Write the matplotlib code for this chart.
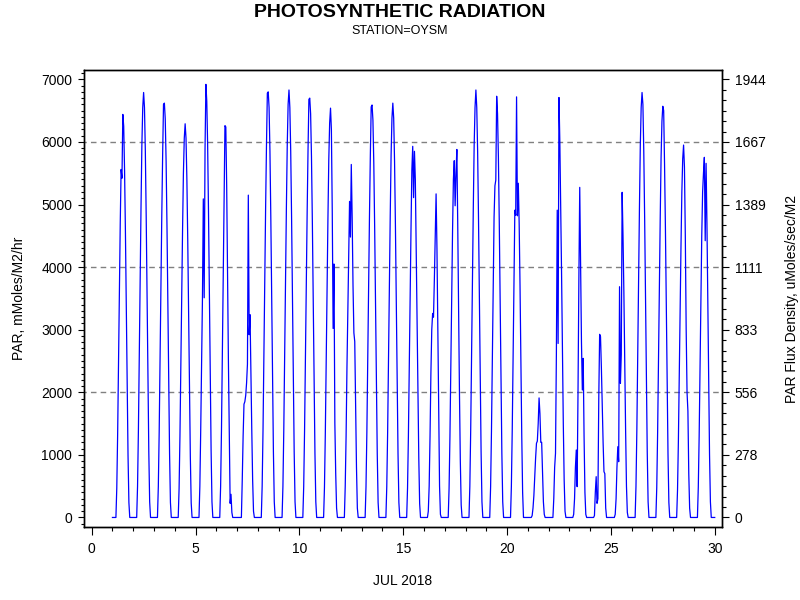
import numpy as np
import matplotlib.pyplot as plt
from matplotlib.ticker import MultipleLocator

plt.rcParams['font.family'] = ['Liberation Sans', 'DejaVu Sans']

# hourly PAR (mMoles/M2/hr) for hours 05..19 of each day, zero at night
days = list(range(1, 30))
day_hours = list(range(5, 20))

jul01 = [470, 1330, 2460, 3600, 4700, 5560, 5420, 6440, 6250, 5540, 4550, 3360, 2130, 990, 240]
jul02 = [500, 1400, 2600, 3800, 4950, 5950, 6550, 6790, 6550, 5850, 4800, 3550, 2250, 1050, 250]
jul03 = [490, 1360, 2530, 3700, 4820, 5790, 6600, 6620, 6370, 5690, 4670, 3450, 2190, 1020, 240]
jul04 = [460, 1300, 2400, 3520, 4580, 5500, 6060, 6290, 6060, 5410, 4440, 3280, 2080, 970, 230]
jul05 = [500, 1400, 2500, 3500, 5090, 3510, 5900, 6920, 6650, 5950, 4880, 3600, 2290, 1070, 250]
jul06 = [500, 1400, 2600, 3800, 4950, 6260, 6240, 5300, 3900, 2500, 1300, 226, 370, 80, 0]
jul07 = [0, 600, 1300, 1810, 1850, 1950, 2150, 2450, 5150, 2920, 3240, 2300, 1400, 600, 100]
jul08 = [500, 1400, 2600, 3800, 4950, 5950, 6780, 6800, 6550, 5850, 4800, 3550, 2250, 1050, 250]
jul09 = [500, 1400, 2600, 3800, 4950, 5950, 6600, 6830, 6550, 5850, 4800, 3550, 2250, 1050, 250]
jul10 = [490, 1380, 2560, 3740, 4880, 5860, 6680, 6700, 6450, 5760, 4730, 3500, 2220, 1030, 250]
jul11 = [480, 1350, 2500, 3650, 4760, 5720, 6300, 6540, 6200, 4900, 3020, 4050, 1510, 700, 150]
jul12 = [500, 1300, 2400, 3300, 4100, 5050, 4480, 5640, 4800, 3700, 2950, 2810, 1800, 800, 150]
jul13 = [490, 1360, 2520, 3680, 4800, 5770, 6560, 6590, 6350, 5670, 4650, 3440, 2180, 1020, 240]
jul14 = [490, 1360, 2530, 3700, 4820, 5790, 6380, 6620, 6380, 5690, 4670, 3450, 2190, 1020, 240]
jul15 = [470, 1300, 2420, 3540, 4600, 5550, 5930, 5110, 5850, 5400, 4300, 3150, 2000, 950, 220]
jul16 = [100, 500, 1300, 2300, 3000, 3260, 3200, 3800, 4490, 5170, 4300, 3000, 1600, 500, 50]
jul17 = [460, 1290, 2400, 3500, 4560, 5400, 5700, 4980, 5500, 5880, 4700, 3300, 2000, 900, 200]
jul18 = [500, 1400, 2600, 3800, 4950, 5950, 6550, 6830, 6550, 5850, 4800, 3550, 2250, 1050, 250]
jul19 = [490, 1380, 2560, 3740, 4800, 5300, 5390, 6730, 6450, 5760, 4730, 3500, 2220, 1030, 250]
jul20 = [500, 1400, 2600, 3800, 4910, 4830, 6720, 4820, 5340, 4700, 3700, 2500, 1300, 400, 0]
jul21 = [30, 150, 350, 650, 950, 1185, 1220, 1500, 1910, 1660, 1200, 1200, 700, 250, 50]
jul22 = [0, 300, 800, 1025, 2600, 4910, 2780, 6710, 6000, 5000, 3900, 2700, 1500, 600, 100]
jul23 = [50, 300, 800, 1078, 492, 2000, 3800, 5274, 4000, 2800, 2036, 2542, 1300, 400, 50]
jul24 = [30, 400, 652, 226, 300, 1900, 2926, 2890, 2400, 1800, 1200, 732, 700, 150, 0]
jul25 = [50, 300, 800, 1131, 891, 3687, 2143, 2600, 5195, 4500, 3600, 2500, 1400, 500, 80]
jul26 = [500, 1400, 2600, 3800, 4950, 5950, 6550, 6790, 6600, 5850, 4800, 3550, 2250, 1050, 250]
jul27 = [480, 1350, 2500, 3670, 4780, 5750, 6330, 6570, 6500, 5650, 4640, 3430, 2170, 1010, 240]
jul28 = [440, 1220, 2270, 3320, 4330, 5200, 5730, 5950, 5600, 4500, 3000, 2000, 1700, 700, 150]
jul29 = [480, 1300, 2400, 3500, 4500, 5200, 5500, 5754, 4422, 5658, 4700, 3500, 2200, 1000, 250]

profiles = [jul01, jul02, jul03, jul04, jul05, jul06, jul07, jul08, jul09, jul10,
            jul11, jul12, jul13, jul14, jul15, jul16, jul17, jul18, jul19, jul20,
            jul21, jul22, jul23, jul24, jul25, jul26, jul27, jul28, jul29]

left_ticks = [0, 1000, 2000, 3000, 4000, 5000, 6000, 7000]
right_labels = ['0', '278', '556', '833', '1111', '1389', '1667', '1944']
grid_levels = [2000, 4000, 6000]

t = []
par = []
for d, prof in zip(days, profiles):
    for h in range(24):
        t.append(d + h / 24)
        par.append(prof[day_hours.index(h)] if h in day_hours else 0)
t.append(30.0)
par.append(0)

fig = plt.figure(figsize=(8, 6), dpi=100)
ax = fig.add_axes([0.105, 0.1217, 0.7975, 0.7616])

ax.hlines(grid_levels, -1, 31, colors='#808080', linestyles=(0, (4, 3)), linewidth=1)
ax.plot(t, par, color='#0000ff', linewidth=0.9)

ax.set_xlim(-0.37, 30.35)
ax.set_ylim(-152, 7149)
ax.set_xticks(np.arange(0, 31, 5))
ax.xaxis.set_minor_locator(MultipleLocator(1))
ax.set_yticks(left_ticks)
ax.yaxis.set_minor_locator(MultipleLocator(100))
ax.tick_params(axis='x', which='major', direction='out', length=6, width=0.8, labelsize=10, pad=5)
ax.tick_params(axis='x', which='minor', direction='out', length=3, width=0.8)
ax.tick_params(axis='y', which='major', direction='out', length=4.5, width=0.8, labelsize=10, pad=4)
ax.tick_params(axis='y', which='minor', direction='out', length=2.5, width=0.8)
ax.set_xlabel('JUL 2018', fontsize=10, labelpad=13)
ax.set_ylabel('PAR, mMoles/M2/hr', fontsize=10, labelpad=11)

ax2 = ax.twinx()
ax2.set_ylim(ax.get_ylim())
ax2.set_yticks(left_ticks)
ax2.set_yticklabels(right_labels)
ax2.yaxis.set_minor_locator(MultipleLocator(1000 / 6))
ax2.tick_params(axis='y', which='major', direction='out', length=5, width=0.8, labelsize=10, pad=4)
ax2.tick_params(axis='y', which='minor', direction='out', length=3, width=0.8)
ax2.set_ylabel('PAR Flux Density, uMoles/sec/M2', fontsize=10, labelpad=14)

for a in (ax, ax2):
    for s in a.spines.values():
        s.set_linewidth(1)

fig.text(0.5, 0.993, 'PHOTOSYNTHETIC RADIATION', ha='center', va='top', fontsize=14, fontweight='bold')
fig.text(0.5, 0.958, 'STATION=OYSM', ha='center', va='top', fontsize=9)

fig.savefig('out.png', dpi=100)
